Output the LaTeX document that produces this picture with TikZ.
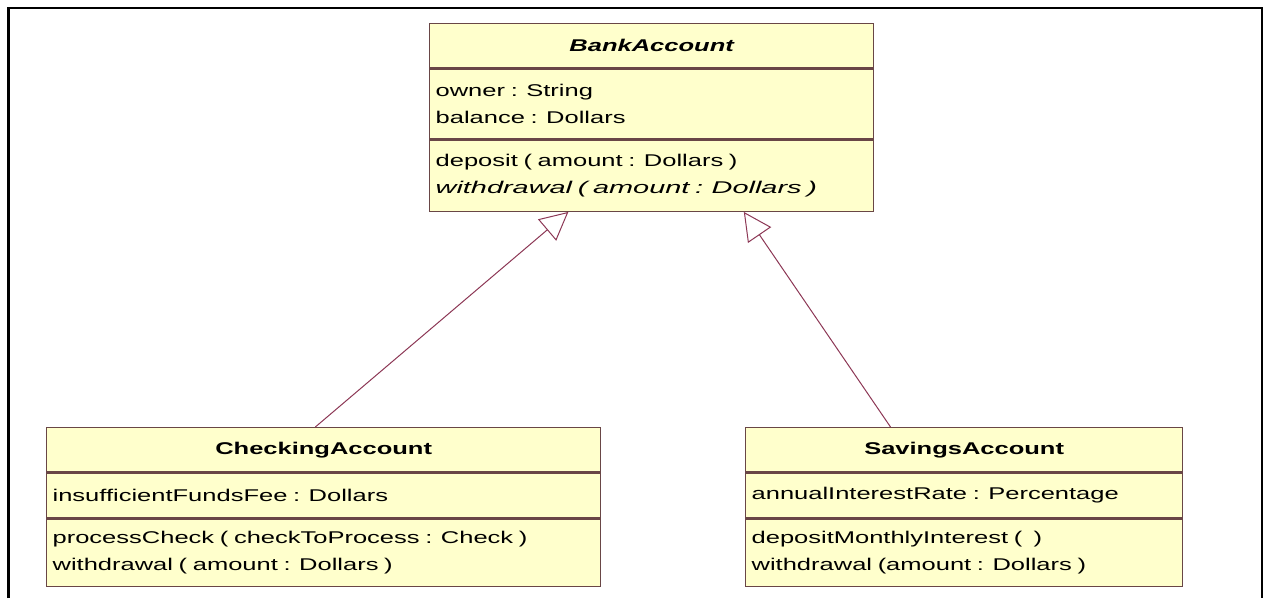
\documentclass[tikz,border=0pt]{standalone}
\usepackage{fontspec}
\setmainfont{Liberation Sans}[FakeStretch=1.5]
\newfontfamily\widitalic{Liberation Sans Italic}[FakeStretch=1.7]
\usetikzlibrary{arrows.meta,calc}
\definecolor{boxfill}{RGB}{255,255,204}
\definecolor{boxline}{RGB}{105,70,70}
\definecolor{conn}{RGB}{140,55,85}
\tikzset{
  cls/.style={draw=boxline, fill=boxfill, line width=1.3pt, rectangle, anchor=north west, inner xsep=6pt, inner ysep=0pt, font=\fontsize{17}{27}\selectfont},
  clstitle/.style={cls, align=center, font=\fontsize{17}{27}\selectfont\bfseries},
  clsbody/.style={cls, align=left},
  gen/.style={draw=conn, line width=1pt, -{Triangle[open, length=28pt, width=28pt, line width=1pt]}},
  frameline/.style={line width=2.5pt, black}
}
\begin{document}
\begin{tikzpicture}[x=1pt,y=-1pt]
\useasboundingbox (0,0) rectangle (1266,598);
\draw[frameline] (8,8) -- (1262,8) -- (1262,598);
\draw[frameline, line width=3pt] (8.5,598) -- (8.5,6.75);
% BankAccount
\node[clstitle, minimum width=444pt, minimum height=44pt] (baT) at (429,23) {\itshape BankAccount};
\node[clsbody, minimum width=444pt, minimum height=70pt, text width=432pt] (baA) at (baT.south west) {owner : String\\balance : Dollars};
\node[clsbody, minimum width=444pt, minimum height=71pt, text width=432pt] (baM) at (baA.south west) {deposit ( amount : Dollars )\\{\widitalic withdrawal ( amount : Dollars )}};
% CheckingAccount
\node[clstitle, minimum width=554pt, minimum height=44pt] (ckT) at (46,427) {CheckingAccount};
\node[clsbody, minimum width=554pt, minimum height=45pt, text width=542pt] (ckA) at (ckT.south west) {insufficientFundsFee : Dollars};
\node[clsbody, minimum width=554pt, minimum height=67pt, text width=542pt] (ckM) at (ckA.south west) {processCheck ( checkToProcess : Check )\\withdrawal ( amount : Dollars )};
% SavingsAccount
\node[clstitle, minimum width=437pt, minimum height=44pt] (svT) at (745,427) {SavingsAccount};
\node[clsbody, minimum width=437pt, minimum height=45pt, text width=425pt] (svA) at (svT.south west) {annualInterestRate : Percentage};
\node[clsbody, minimum width=437pt, minimum height=67pt, text width=425pt] (svM) at (svA.south west) {depositMonthlyInterest (\ \ )\\withdrawal (amount : Dollars )};
% generalizations
\coordinate (tipL) at ($(baM.south west)!0.313!(baM.south east)$);
\coordinate (tipR) at ($(baM.south west)!0.707!(baM.south east)$);
\coordinate (srcL) at ($(ckT.north west)!0.485!(ckT.north east)$);
\coordinate (srcR) at ($(svT.north west)!0.332!(svT.north east)$);
\draw[gen] (srcL) -- (tipL);
\draw[gen] (srcR) -- (tipR);
\end{tikzpicture}
\end{document}
